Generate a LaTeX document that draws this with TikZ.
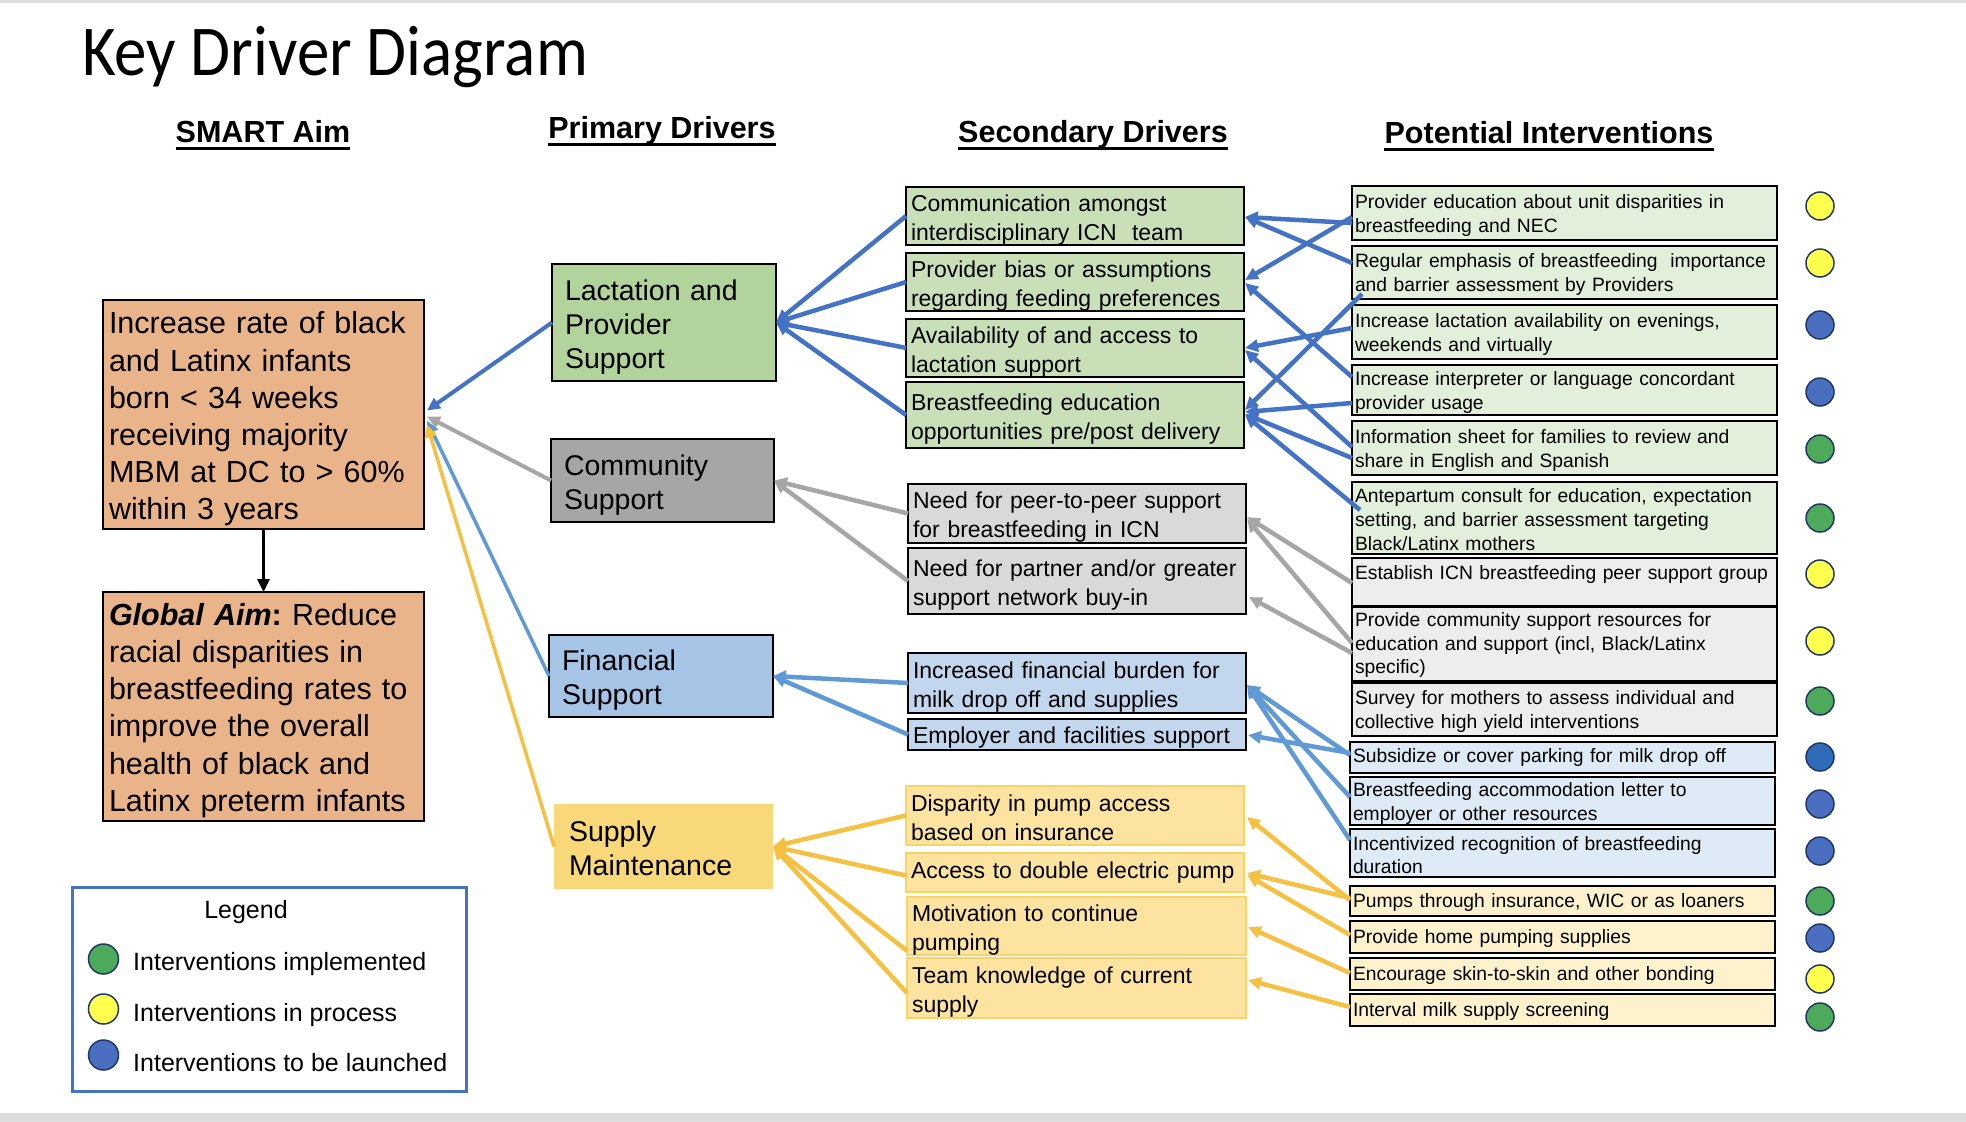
\documentclass[tikz,border=0pt]{standalone}
\usepackage{fontspec}
\setmainfont{Liberation Sans}
\newfontfamily\titlefont{Carlito}
\usetikzlibrary{arrows.meta,calc}
\frenchspacing
\definecolor{aimc}{HTML}{EAB48A}
\definecolor{pgreen}{HTML}{B3D39C}
\definecolor{sgreen}{HTML}{C8DFB7}
\definecolor{igreen}{HTML}{E2EFDA}
\definecolor{pgray}{HTML}{A6A6A6}
\definecolor{sgray}{HTML}{D9D9D9}
\definecolor{igray}{HTML}{EDEDED}
\definecolor{pblue}{HTML}{A6C4E6}
\definecolor{sblue}{HTML}{C2D6EE}
\definecolor{iblue}{HTML}{DEEBF7}
\definecolor{pyel}{HTML}{F8D878}
\definecolor{syel}{HTML}{FCE4A0}
\definecolor{syelb}{HTML}{F9D464}
\definecolor{iyel}{HTML}{FEF2CC}
\definecolor{cblue}{HTML}{4472C4}
\definecolor{clblue}{HTML}{5F9AD6}
\definecolor{cgray}{HTML}{A6A6A6}
\definecolor{cyel}{HTML}{F6C143}
\definecolor{dotY}{HTML}{FFFF4D}
\definecolor{dotG}{HTML}{4CAA5A}
\definecolor{dotB}{HTML}{4A6FC0}
\definecolor{dotD}{HTML}{2E6CB8}
\definecolor{dotline}{HTML}{203864}
\definecolor{bandc}{HTML}{DDDDDD}
% name, x1, y1, x2, y2, inset, style, first-line strut height, text
\newcommand\bx[9]{%
  \pgfmathsetmacro\bxtw{#4-#2-2*#6}%
  \pgfmathsetmacro\bxh{#5-#3}%
  \node[#7, inner xsep=#6pt, text width=\bxtw pt, minimum height=\bxh pt, anchor=north west] (#1) at (#2,#3) {\rule{0pt}{#8pt}#9};}
\tikzset{
  boxbase/.style={outer sep=0pt, inner ysep=0pt, align=left},
  aimbox/.style={boxbase, draw=black, line width=2.5pt, fill=aimc, font=\fontsize{30.5}{37.2}\selectfont},
  pbox/.style={boxbase, draw=black, line width=2.5pt, font=\fontsize{28.5}{34}\selectfont},
  sbox/.style={boxbase, draw=black, line width=2.5pt, font=\fontsize{23}{29}\selectfont},
  ibox/.style={boxbase, draw=black, line width=2.5pt, font=\fontsize{19.3}{23.6}\selectfont},
  dot/.style={circle, draw=dotline, line width=1.5pt, minimum size=28pt, inner sep=0pt},
  ldot/.style={dot, minimum size=30pt},
  hdr/.style={anchor=base, inner sep=0pt, font=\bfseries\fontsize{30.5}{36}\selectfont},
  legtxt/.style={anchor=base west, inner sep=0pt, font=\fontsize{25}{29}\selectfont},
  arr/.style={-{Triangle[length=13pt,width=12pt]}, line width=4.5pt},
  arrthin/.style={-{Triangle[length=13pt,width=12pt]}, line width=3.5pt},
}
\begin{document}
\begin{tikzpicture}[x=1pt,y=-1pt]
\useasboundingbox (0,0) rectangle (1966,1122);
\fill[white] (0,0) rectangle (1966,1122);
\fill[bandc] (0,0) rectangle (1966,3);
\fill[bandc] (0,1113) rectangle (1966,1122);

% title and headers
\node[anchor=base west, inner sep=0pt, font=\titlefont\fontsize{65}{70}\selectfont] (title) at (82,75) {\scalebox{1}[1.1]{Key Driver Diagram}};
\node[hdr] (h1) at (263,142) {SMART Aim};
\node[hdr] (h2) at (662,138) {Primary Drivers};
\node[hdr] (h3) at (1093,142) {Secondary Drivers};
\node[hdr] (h4) at (1549,143) {Potential Interventions};
\foreach \h in {h1,h2,h3,h4}
  \draw[line width=3pt] ($(\h.base west)+(0,6.5)$) -- ($(\h.base east)+(0,6.5)$);

% aims
\bx{Aim}{103}{300}{424}{529}{6}{aimbox}{31}{\mbox{Increase rate of black}\\\mbox{and Latinx infants}\\\mbox{born < 34 weeks}\\\mbox{receiving majority}\\\mbox{MBM at DC to > 60\%}\\\mbox{within 3 years}}
\bx{Glob}{103}{592}{424}{821}{6}{aimbox}{30}{\mbox{\textbf{\textit{Global Aim}:}\ Reduce}\\\mbox{racial disparities in}\\\mbox{breastfeeding rates to}\\\mbox{improve the overall}\\\mbox{health of black and}\\\mbox{Latinx preterm infants}}
\draw[arrthin, black, line width=3pt] (Aim.south) -- (Glob.north);

% primary drivers
\bx{Lac}{552}{264}{776}{381}{13}{pbox, fill=pgreen}{29}{Lactation and\\Provider\\Support}
\bx{Com}{551}{439}{774}{522}{13}{pbox, fill=pgray}{29}{Community\\Support}
\bx{Fin}{549}{635}{773}{717}{13}{pbox, fill=pblue}{29}{Financial\\Support}
\bx{Sup}{554}{804}{773}{889}{15}{pbox, draw=none, fill=pyel}{25}{Supply\\Maintenance}

% secondary drivers
\bx{S1}{906}{187}{1244}{245}{5}{sbox, fill=sgreen}{24}{\mbox{Communication amongst}\\\mbox{interdisciplinary ICN\ \ team}}
\bx{S2}{906}{253}{1244}{311}{5}{sbox, fill=sgreen}{24}{\mbox{Provider bias or assumptions}\\\mbox{regarding feeding preferences}}
\bx{S3}{906}{319}{1244}{376}{5}{sbox, fill=sgreen}{24}{\mbox{Availability of and access to}\\\mbox{lactation support}}
\bx{S4}{906}{382}{1244}{448}{5}{sbox, fill=sgreen}{24}{\mbox{Breastfeeding education}\\\mbox{opportunities pre/post delivery}}
\bx{S5}{908}{484}{1246}{543}{5}{sbox, fill=sgray}{24}{\mbox{Need for peer-to-peer support}\\\mbox{for breastfeeding in ICN}}
\bx{S6}{908}{548}{1246}{614}{5}{sbox, fill=sgray}{24}{\mbox{Need for partner and/or greater}\\\mbox{support network buy-in}}
\bx{S7}{908}{653}{1246}{713}{5}{sbox, fill=sblue}{24}{\mbox{Increased financial burden for}\\\mbox{milk drop off and supplies}}
\bx{S8}{908}{719}{1246}{750}{5}{sbox, fill=sblue}{22}{\mbox{Employer and facilities support}}
\bx{S9}{906}{786}{1244}{845}{5}{sbox, draw=syelb, fill=syel}{22}{\mbox{Disparity in pump access}\\\mbox{based on insurance}}
\bx{S10}{906}{853}{1244}{892}{5}{sbox, draw=syelb, fill=syel}{17}{\mbox{Access to double electric pump}}
\bx{S11}{907}{897}{1246}{954}{5}{sbox, draw=syelb, fill=syel}{24}{\mbox{Motivation to continue}\\\mbox{pumping}}
\bx{S12}{907}{958}{1246}{1018}{5}{sbox, draw=syelb, fill=syel}{24}{\mbox{Team knowledge of current}\\\mbox{supply}}

% interventions
\bx{I1}{1352}{186}{1777}{240}{3}{ibox, fill=igreen}{18.5}{\mbox{Provider education about unit disparities in}\\\mbox{breastfeeding and NEC}}
\bx{I2}{1352}{246}{1777}{299}{3}{ibox, fill=igreen}{18.5}{\mbox{Regular emphasis of breastfeeding\ \ importance}\\\mbox{and barrier assessment by Providers}}
\bx{I3}{1352}{305}{1777}{359}{3}{ibox, fill=igreen}{18.5}{\mbox{Increase lactation availability on evenings,}\\\mbox{weekends and virtually}}
\bx{I4}{1352}{365}{1777}{415}{3}{ibox, fill=igreen}{18.5}{\mbox{Increase interpreter or language concordant}\\\mbox{provider usage}}
\bx{I5}{1352}{421}{1777}{475}{3}{ibox, fill=igreen}{18.5}{\mbox{Information sheet for families to review and}\\\mbox{share in English and Spanish}}
\bx{I6}{1352}{482}{1777}{554}{3}{ibox, fill=igreen}{17}{\mbox{Antepartum consult for education, expectation}\\\mbox{setting, and barrier assessment targeting}\\\mbox{Black/Latinx mothers}}
\bx{I7}{1352}{558}{1777}{606}{3}{ibox, fill=igray}{18.5}{\mbox{Establish ICN breastfeeding peer support group}\\\mbox{}}
\bx{I8}{1352}{607}{1777}{681}{3}{ibox, fill=igray}{16}{\mbox{Provide community support resources for}\\\mbox{education and support (incl, Black/Latinx}\\\mbox{specific)}}
\bx{I9}{1352}{683}{1777}{736}{3}{ibox, fill=igray}{18.5}{\mbox{Survey for mothers to assess individual and}\\\mbox{collective high yield interventions}}
\bx{I10}{1350}{742}{1775}{773}{3}{ibox, fill=iblue}{14}{\mbox{Subsidize or cover parking for milk drop off}}
\bx{I11}{1350}{777}{1775}{825}{3}{ibox, fill=iblue}{18.5}{\mbox{Breastfeeding accommodation letter to}\\\mbox{employer or other resources}}
\bx{I12}{1350}{829}{1775}{877}{3}{ibox, fill=iblue}{18.5}{\mbox{Incentivized recognition of breastfeeding}\\\mbox{duration}}
\bx{I13}{1350}{886}{1775}{916}{3}{ibox, fill=iyel}{17}{\mbox{Pumps through insurance, WIC or as loaners}}
\bx{I14}{1350}{921}{1775}{953}{3}{ibox, fill=iyel}{17}{\mbox{Provide home pumping supplies}}
\bx{I15}{1350}{958}{1775}{990}{3}{ibox, fill=iyel}{16}{\mbox{Encourage skin-to-skin and other bonding}}
\bx{I16}{1350}{994}{1775}{1026}{3}{ibox, fill=iyel}{17}{\mbox{Interval milk supply screening}}

% status dots
\node[dot, fill=dotY] (c1) at (1820,206) {};
\node[dot, fill=dotY] (c2) at (1820,263) {};
\node[dot, fill=dotB] (c3) at (1820,325) {};
\node[dot, fill=dotB] (c4) at (1820,392) {};
\node[dot, fill=dotG] (c5) at (1820,449) {};
\node[dot, fill=dotG] (c6) at (1820,518) {};
\node[dot, fill=dotY] (c7) at (1820,574) {};
\node[dot, fill=dotY] (c8) at (1820,641) {};
\node[dot, fill=dotG] (c9) at (1820,701) {};
\node[dot, fill=dotD] (c10) at (1820,757) {};
\node[dot, fill=dotB] (c11) at (1820,804) {};
\node[dot, fill=dotB] (c12) at (1820,851) {};
\node[dot, fill=dotG] (c13) at (1820,901) {};
\node[dot, fill=dotB] (c14) at (1820,938) {};
\node[dot, fill=dotY] (c15) at (1820,979) {};
\node[dot, fill=dotG] (c16) at (1820,1017) {};

% primary -> aim
\draw[arr, cblue, line width=4pt] (Lac.west) -- ($(Aim.east)+(3,-4)$);
\draw[arr, cgray, line width=4pt] (Com.west) -- ($(Aim.east)+(3,2)$);
\draw[arrthin, clblue] (Fin.west) -- ($(Aim.east)+(3,6)$);
\draw[arrthin, cyel] (Sup.west) -- ($(Aim.east)+(3,10)$);

% secondary -> primary
\foreach \s in {S1,S2,S3,S4} \draw[arr, cblue] (\s.west) -- (Lac.east);
\foreach \s in {S5,S6} \draw[arr, cgray] (\s.west) -- (Com.east);
\foreach \s in {S7,S8} \draw[arr, clblue] (\s.west) -- (Fin.east);
\draw[arr, cyel] (S9.west) -- (Sup.east);
\draw[arr, cyel] ($(S10.west)+(0,3)$) -- (Sup.east);
\draw[arr, cyel] ($(S11.south west)+(0,-4)$) -- (Sup.east);
\draw[arr, cyel] ($(S12.west)+(0,5)$) -- (Sup.east);

% interventions -> secondary
\draw[arr, cblue] ($(I1.north west)+(0,37)$) -- ($(S1.north east)+(1,30)$);
\draw[arr, cblue] ($(I2.north west)+(0,17)$) -- ($(S1.north east)+(1,30)$);
\draw[arr, cblue] ($(I1.north west)+(0,31)$) -- ($(S2.north east)+(1,27)$);
\draw[arr, cblue] ($(I4.north west)+(0,12)$) -- ($(S2.north east)+(1,30)$);
\draw[arr, cblue] ($(I3.north west)+(0,23)$) -- ($(S3.north east)+(1,29)$);
\draw[arr, cblue] ($(I5.north west)+(0,26)$) -- ($(S3.north east)+(1,31)$);
\draw[arr, cblue] ($(I2.south west)+(10,-5)$) -- ($(S4.north east)+(1,28)$);
\draw[arr, cblue] ($(I4.north west)+(0,38)$) -- ($(S4.north east)+(1,30)$);
\draw[arr, cblue] ($(I5.north west)+(0,37)$) -- ($(S4.north east)+(1,32)$);
\draw[arr, cblue] ($(I6.north west)+(8,28)$) -- ($(S4.north east)+(1,33)$);

\draw[arr, cgray] ($(I7.north west)+(0,25)$) -- ($(S5.north east)+(1,33)$);
\draw[arr, cgray] ($(I8.north west)+(0,36)$) -- ($(S5.north east)+(1,35)$);
\draw[arr, cgray] ($(I8.north west)+(0,46)$) -- ($(S6.north east)+(3,49)$);

\draw[arr, clblue] ($(I10.north west)+(0,13)$) -- ($(S7.north east)+(1,32)$);
\draw[arr, clblue] ($(I11.north west)+(0,20)$) -- ($(S7.north east)+(1,32)$);
\draw[arr, clblue] ($(I12.north west)+(0,11)$) -- ($(S7.north east)+(1,32)$);
\draw[arr, clblue] ($(I10.north west)+(0,11)$) -- ($(S8.north east)+(2,16)$);

\draw[arr, cyel] ($(I13.north west)+(0,14)$) -- ($(S9.north east)+(3,31)$);
\draw[arr, cyel] ($(I13.north west)+(0,12)$) -- ($(S10.north east)+(3,20)$);
\draw[arr, cyel] ($(I14.north west)+(0,14)$) -- ($(S10.north east)+(3,22)$);
\draw[arr, cyel] ($(I15.north west)+(0,15)$) -- ($(S11.north east)+(2,30)$);
\draw[arr, cyel] ($(I16.north west)+(0,13)$) -- ($(S12.north east)+(2,22)$);

% legend
\node[draw=cblue, line width=3pt, anchor=north west, minimum width=394pt, minimum height=204pt, inner sep=0pt, outer sep=0pt] (Leg) at (72,887) {};
\node[anchor=base, inner sep=0pt, font=\fontsize{25}{29}\selectfont] (legt) at (246,918) {Legend};
\node[ldot, fill=dotG] (l1) at (103.5,959) {};
\node[ldot, fill=dotY] (l2) at (103.5,1009) {};
\node[ldot, fill=dotB] (l3) at (103.5,1055) {};
\node[legtxt] (lt1) at (133,970) {Interventions implemented};
\node[legtxt] (lt2) at (133,1021) {Interventions in process};
\node[legtxt] (lt3) at (133,1071) {Interventions to be launched};
\end{tikzpicture}
\end{document}
